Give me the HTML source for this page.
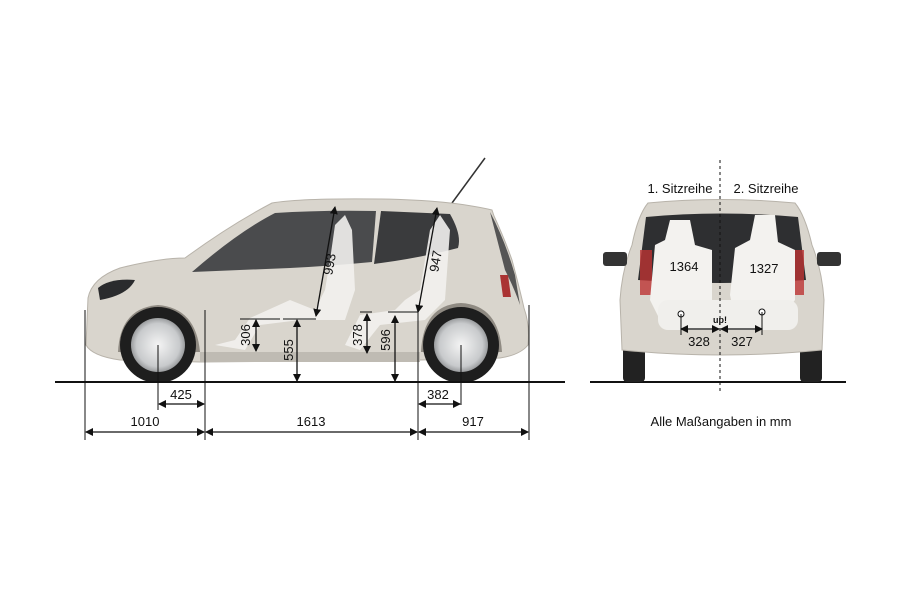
<!DOCTYPE html>
<html><head><meta charset="utf-8"><style>
html,body{margin:0;padding:0;background:#fff;}
svg{display:block;font-family:"Liberation Sans",sans-serif;}
</style></head><body>
<svg width="900" height="600" viewBox="0 0 900 600" xmlns="http://www.w3.org/2000/svg">
<defs>
<marker id="a" markerWidth="8" markerHeight="8" refX="7" refY="4" orient="auto-start-reverse" markerUnits="userSpaceOnUse"><path d="M0,0 L8,4 L0,8 z" fill="#111"/></marker>
<radialGradient id="w" cx="0.5" cy="0.5" r="0.5"><stop offset="0" stop-color="#f4f4f4"/><stop offset="0.8" stop-color="#c8cacc"/><stop offset="1" stop-color="#9a9c9e"/></radialGradient>
</defs>
<rect width="900" height="600" fill="#fff"/>
<line x1="452" y1="203" x2="485" y2="158" stroke="#333" stroke-width="1.5"/>
<path d="M88,298 Q92,278 120,268 Q160,258 185,258 Q230,225 272,203 Q300,198 380,199 Q450,200 492,210 L494,216 Q505,240 512,260 Q520,290 524,308 Q530,325 528,345 Q520,355 500,358 L420,360 L200,362 L120,360 Q92,356 86,345 Z" fill="#d9d5cd" stroke="#b8b3aa"/>
<path d="M118,352 Q120,308 158,305 Q196,308 200,352 Z" fill="#8f8a82"/>
<path d="M421,352 Q423,305 461,303 Q499,305 502,352 Z" fill="#8f8a82"/>
<path d="M192,272 Q238,232 275,213 Q320,210 376,211 L372,262 Q330,266 290,268 Z" fill="#4a4b4d"/>
<path d="M381,211 L450,214 Q462,235 458,248 Q420,258 374,264 Z" fill="#3a3b3d"/>
<path d="M490,212 Q505,240 515,275 L520,305 Q515,290 505,270 Z" fill="#555"/>
<path d="M500,275 l8,0 l3,22 l-8,0z" fill="#a33"/>
<path d="M98,288 Q110,278 135,280 Q128,295 100,300 Z" fill="#2a2b2d"/>
<path d="M215,345 L235,340 L250,318 L290,300 L315,310 L325,290 L330,260 L335,225 L345,215 L352,230 L355,290 L345,320 L300,320 L260,325 L245,350 Z" fill="#f2f1ee" opacity="0.9"/>
<path d="M345,345 L360,315 L395,310 L405,300 L420,290 L430,230 L440,215 L450,230 L445,300 L425,320 L380,325 L360,350 Z" fill="#f2f1ee" opacity="0.9"/>
<rect x="200" y="352" width="220" height="10" fill="#bfbbb3"/>
<circle cx="158" cy="345" r="38" fill="#1e1e1e"/><circle cx="158" cy="345" r="27" fill="url(#w)"/>
<circle cx="461" cy="345" r="38" fill="#1e1e1e"/><circle cx="461" cy="345" r="27" fill="url(#w)"/>
<line x1="55" y1="382" x2="565" y2="382" stroke="#111" stroke-width="2"/>
<line x1="590" y1="382" x2="846" y2="382" stroke="#111" stroke-width="2"/>
<g stroke="#111" stroke-width="1">
<line x1="85" y1="310" x2="85" y2="440"/>
<line x1="205" y1="310" x2="205" y2="440"/>
<line x1="418" y1="310" x2="418" y2="440"/>
<line x1="529" y1="305" x2="529" y2="440"/>
<line x1="158" y1="345" x2="158" y2="410"/>
<line x1="461" y1="345" x2="461" y2="405"/>
</g>
<g stroke="#111" stroke-width="1.3" marker-start="url(#a)" marker-end="url(#a)">
<line x1="86" y1="432" x2="204" y2="432"/>
<line x1="206" y1="432" x2="417" y2="432"/>
<line x1="419" y1="432" x2="528" y2="432"/>
<line x1="159" y1="404" x2="204" y2="404"/>
<line x1="419" y1="404" x2="460" y2="404"/>
<line x1="256" y1="320" x2="256" y2="351"/>
<line x1="297" y1="320" x2="297" y2="381"/>
<line x1="367" y1="314" x2="367" y2="353"/>
<line x1="395" y1="316" x2="395" y2="381"/>
<line x1="316" y1="316" x2="335" y2="207"/>
<line x1="418" y1="312" x2="437" y2="208"/>
</g>
<g stroke="#111" stroke-width="1">
<line x1="240" y1="319" x2="280" y2="319"/><line x1="283" y1="319" x2="316" y2="319"/>
<line x1="360" y1="312" x2="372" y2="312"/><line x1="388" y1="312" x2="418" y2="312"/>
</g>
<g font-size="13" fill="#111" text-anchor="middle">
<text x="145" y="426">1010</text><text x="311" y="426">1613</text><text x="473" y="426">917</text>
<text x="181" y="399">425</text><text x="438" y="399">382</text>
<text transform="translate(250,335) rotate(-90)">306</text>
<text transform="translate(293,350) rotate(-90)">555</text>
<text transform="translate(362,335) rotate(-90)">378</text>
<text transform="translate(390,340) rotate(-90)">596</text>
<text transform="translate(334,265) rotate(-80)">993</text>
<text transform="translate(440,262) rotate(-80)">947</text>
</g>
<rect x="623" y="340" width="22" height="42" rx="4" fill="#222"/>
<rect x="800" y="340" width="22" height="42" rx="4" fill="#222"/>
<path d="M648,203 Q720,196 795,203 Q805,215 812,245 Q822,270 824,300 L822,350 Q720,360 622,350 L620,300 Q622,270 632,245 Q638,215 648,203 Z" fill="#d9d5cd" stroke="#b8b3aa"/>
<path d="M646,217 Q720,210 798,217 L806,280 Q720,286 638,280 Z" fill="#2e2f31"/>
<rect x="603" y="252" width="24" height="14" rx="3" fill="#333"/>
<rect x="817" y="252" width="24" height="14" rx="3" fill="#333"/>
<rect x="640" y="250" width="12" height="45" fill="#b33" opacity="0.8"/>
<rect x="792" y="250" width="12" height="45" fill="#b33" opacity="0.8"/>
<path d="M655,245 L665,240 L670,220 L690,220 L695,245 L712,250 L712,300 L700,315 L660,320 L650,300 Z" fill="#f3f2ef"/>
<path d="M735,248 L750,240 L755,215 L775,215 L778,242 L795,250 L795,300 L780,318 L735,318 L730,295 Z" fill="#f3f2ef"/>
<rect x="658" y="300" width="140" height="30" rx="10" fill="#f0efec"/>
<line x1="720" y1="160" x2="720" y2="392" stroke="#111" stroke-dasharray="3,3"/>
<g stroke="#111" stroke-width="1.3" marker-start="url(#a)" marker-end="url(#a)">
<line x1="681" y1="329" x2="719" y2="329"/><line x1="721" y1="329" x2="762" y2="329"/>
</g>
<circle cx="681" cy="314" r="3" fill="#fff" stroke="#111"/><circle cx="762" cy="312" r="3" fill="#fff" stroke="#111"/>
<line x1="681" y1="314" x2="681" y2="335" stroke="#111"/><line x1="762" y1="312" x2="762" y2="335" stroke="#111"/>
<g font-size="13" fill="#111" text-anchor="middle">
<text x="680" y="193">1. Sitzreihe</text><text x="766" y="193">2. Sitzreihe</text>
<text x="684" y="271">1364</text><text x="764" y="273">1327</text>
<text x="699" y="346">328</text><text x="742" y="346">327</text>
<text x="721" y="426">Alle Maßangaben in mm</text>
</g>
<text x="720" y="323" font-size="9" fill="#111" text-anchor="middle" font-weight="bold">up!</text>
</svg>
</body></html>
